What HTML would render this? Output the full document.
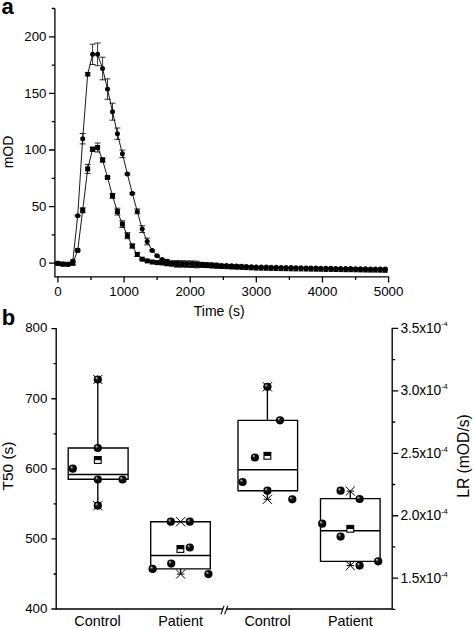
<!DOCTYPE html>
<html><head><meta charset="utf-8"><title>Figure</title>
<style>
html,body{margin:0;padding:0;background:#fff;}
body{width:473px;height:628px;overflow:hidden;position:relative;font-family:"Liberation Sans",sans-serif;color:#000;}
svg{position:absolute;left:0;top:0;}
.t{position:absolute;white-space:nowrap;line-height:1;}
.tk{font-size:13.3px;}
.r{text-align:right;}
.c{transform:translateX(-50%);}
.pl{font-weight:bold;font-size:22px;}
.ax{font-size:14px;}
.rot{transform:translate(-50%,-50%) rotate(-90deg);}
sup{font-size:7.6px;vertical-align:6.5px;line-height:0;letter-spacing:-0.2px;}
</style></head><body>
<svg width="473" height="628" viewBox="0 0 473 628">
<defs><radialGradient id="b" cx="0.5" cy="0.5" r="0.5" fx="0.3" fy="0.27">
<stop offset="0" stop-color="#e4e4e4"/><stop offset="0.15" stop-color="#888"/><stop offset="0.4" stop-color="#111"/><stop offset="1" stop-color="#000"/></radialGradient></defs>
<g stroke="#000" fill="none" stroke-width="1.3">
<path d="M54.9 8.5V276.8H389"/>
<path d="M49 263.2H54.9M49 206.6H54.9M49 150.0H54.9M49 93.4H54.9M49 36.8H54.9M51.8 234.9H54.9M51.8 178.3H54.9M51.8 121.7H54.9M51.8 65.1H54.9M51.8 8.5H54.9M57.9 276.8V282.4M124.1 276.8V282.4M190.2 276.8V282.4M256.3 276.8V282.4M322.5 276.8V282.4M388.6 276.8V282.4M91.0 276.8V279.9M157.1 276.8V279.9M223.3 276.8V279.9M289.4 276.8V279.9M355.6 276.8V279.9"/>
</g>
<g stroke="#000" stroke-width="0.9" fill="none"><path d="M57.9 263.2 L62.9 264.1 L67.8 264.2 L72.8 261.3 L77.7 215.8 L82.7 138.7 L87.7 74.2 L92.6 54.3 L97.6 54.3 L102.6 68.5 L107.5 89.1 L112.5 111.7 L117.4 133.7 L122.4 153.8 L127.4 174.0 L132.3 193.4 L137.3 211.4 L142.2 229.1 L147.2 241.5 L152.2 250.4 L157.1 255.8 L162.1 259.6 L167.0 261.3 L172.0 262.7 L177.0 263.3 L181.9 263.4 L186.9 263.5 L191.9 263.6 L196.8 263.9 L201.8 264.2 L206.7 264.5 L211.7 264.8 L216.7 265.1 L221.6 265.4 L226.6 265.6 L231.5 265.8 L236.5 266.1 L241.5 266.3 L246.4 266.5 L251.4 266.7 L256.3 266.9 L261.3 267.0 L266.3 267.1 L271.2 267.2 L276.2 267.3 L281.2 267.4 L286.1 267.5 L291.1 267.6 L296.0 267.7 L301.0 267.8 L306.0 267.9 L310.9 268.0 L315.9 268.1 L320.8 268.2 L325.8 268.2 L330.8 268.3 L335.7 268.4 L340.7 268.5 L345.7 268.5 L350.6 268.6 L355.6 268.7 L360.5 268.8 L365.5 268.8 L370.5 268.9 L375.4 269.0 L380.4 269.1 L385.3 269.1"/><path d="M57.9 262.3V264.1M54.9 262.3h6M54.9 264.1h6M62.9 263.2V265.0M59.9 263.2h6M59.9 265.0h6M67.8 263.3V265.1M64.8 263.3h6M64.8 265.1h6M72.8 260.1V262.4M69.8 260.1h6M69.8 262.4h6M77.7 215.4V216.1M74.7 215.4h6M74.7 216.1h6M82.7 133.5V143.9M79.7 133.5h6M79.7 143.9h6M87.7 72.5V75.9M84.7 72.5h6M84.7 75.9h6M92.6 44.2V64.5M89.6 44.2h6M89.6 64.5h6M97.6 43.0V65.7M94.6 43.0h6M94.6 65.7h6M102.6 57.2V79.8M99.6 57.2h6M99.6 79.8h6M107.5 78.9V99.3M104.5 78.9h6M104.5 99.3h6M112.5 103.2V120.2M109.5 103.2h6M109.5 120.2h6M117.4 128.0V139.4M114.4 128.0h6M114.4 139.4h6M122.4 150.1V157.6M119.4 150.1h6M119.4 157.6h6M127.4 173.1V174.9M124.4 173.1h6M124.4 174.9h6M132.3 192.4V194.3M129.3 192.4h6M129.3 194.3h6M137.3 208.9V213.8M134.3 208.9h6M134.3 213.8h6M142.2 225.7V232.5M139.2 225.7h6M139.2 232.5h6M147.2 238.1V244.9M144.2 238.1h6M144.2 244.9h6M152.2 249.8V251.0M149.2 249.8h6M149.2 251.0h6M157.1 255.4V256.3M154.1 255.4h6M154.1 256.3h6M162.1 259.0V260.1M159.1 259.0h6M159.1 260.1h6M167.0 259.6V263.0M164.0 259.6h6M164.0 263.0h6M172.0 261.0V264.4M169.0 261.0h6M169.0 264.4h6M177.0 260.6V266.0M174.0 260.6h6M174.0 266.0h6M181.9 260.7V266.1M178.9 260.7h6M178.9 266.1h6M186.9 260.8V266.2M183.9 260.8h6M183.9 266.2h6M191.9 260.9V266.4M188.9 260.9h6M188.9 266.4h6M196.8 261.2V266.6M193.8 261.2h6M193.8 266.6h6M201.8 262.4V266.0M198.8 262.4h6M198.8 266.0h6M206.7 262.7V266.3M203.7 262.7h6M203.7 266.3h6M211.7 263.0V266.6M208.7 263.0h6M208.7 266.6h6M216.7 263.3V266.9M213.7 263.3h6M213.7 266.9h6M221.6 264.2V266.5M218.6 264.2h6M218.6 266.5h6M226.6 264.5V266.7M223.6 264.5h6M223.6 266.7h6M231.5 264.7V267.0M228.5 264.7h6M228.5 267.0h6M236.5 264.9V267.2M233.5 264.9h6M233.5 267.2h6M241.5 265.1V267.4M238.5 265.1h6M238.5 267.4h6" stroke-width="0.8"/></g><g fill="#000"><circle cx="57.9" cy="263.2" r="2.5"/><circle cx="62.9" cy="264.1" r="2.5"/><circle cx="67.8" cy="264.2" r="2.5"/><circle cx="72.8" cy="261.3" r="2.5"/><circle cx="77.7" cy="215.8" r="2.5"/><circle cx="82.7" cy="138.7" r="2.5"/><circle cx="87.7" cy="74.2" r="2.5"/><circle cx="92.6" cy="54.3" r="2.5"/><circle cx="97.6" cy="54.3" r="2.5"/><circle cx="102.6" cy="68.5" r="2.5"/><circle cx="107.5" cy="89.1" r="2.5"/><circle cx="112.5" cy="111.7" r="2.5"/><circle cx="117.4" cy="133.7" r="2.5"/><circle cx="122.4" cy="153.8" r="2.5"/><circle cx="127.4" cy="174.0" r="2.5"/><circle cx="132.3" cy="193.4" r="2.5"/><circle cx="137.3" cy="211.4" r="2.5"/><circle cx="142.2" cy="229.1" r="2.5"/><circle cx="147.2" cy="241.5" r="2.5"/><circle cx="152.2" cy="250.4" r="2.5"/><circle cx="157.1" cy="255.8" r="2.5"/><circle cx="162.1" cy="259.6" r="2.5"/><circle cx="167.0" cy="261.3" r="2.5"/><circle cx="172.0" cy="262.7" r="2.5"/><circle cx="177.0" cy="263.3" r="2.5"/><circle cx="181.9" cy="263.4" r="2.5"/><circle cx="186.9" cy="263.5" r="2.5"/><circle cx="191.9" cy="263.6" r="2.5"/><circle cx="196.8" cy="263.9" r="2.5"/><circle cx="201.8" cy="264.2" r="2.5"/><circle cx="206.7" cy="264.5" r="2.5"/><circle cx="211.7" cy="264.8" r="2.5"/><circle cx="216.7" cy="265.1" r="2.5"/><circle cx="221.6" cy="265.4" r="2.5"/><circle cx="226.6" cy="265.6" r="2.5"/><circle cx="231.5" cy="265.8" r="2.5"/><circle cx="236.5" cy="266.1" r="2.5"/><circle cx="241.5" cy="266.3" r="2.5"/><circle cx="246.4" cy="266.5" r="2.5"/><circle cx="251.4" cy="266.7" r="2.5"/><circle cx="256.3" cy="266.9" r="2.5"/><circle cx="261.3" cy="267.0" r="2.5"/><circle cx="266.3" cy="267.1" r="2.5"/><circle cx="271.2" cy="267.2" r="2.5"/><circle cx="276.2" cy="267.3" r="2.5"/><circle cx="281.2" cy="267.4" r="2.5"/><circle cx="286.1" cy="267.5" r="2.5"/><circle cx="291.1" cy="267.6" r="2.5"/><circle cx="296.0" cy="267.7" r="2.5"/><circle cx="301.0" cy="267.8" r="2.5"/><circle cx="306.0" cy="267.9" r="2.5"/><circle cx="310.9" cy="268.0" r="2.5"/><circle cx="315.9" cy="268.1" r="2.5"/><circle cx="320.8" cy="268.2" r="2.5"/><circle cx="325.8" cy="268.2" r="2.5"/><circle cx="330.8" cy="268.3" r="2.5"/><circle cx="335.7" cy="268.4" r="2.5"/><circle cx="340.7" cy="268.5" r="2.5"/><circle cx="345.7" cy="268.5" r="2.5"/><circle cx="350.6" cy="268.6" r="2.5"/><circle cx="355.6" cy="268.7" r="2.5"/><circle cx="360.5" cy="268.8" r="2.5"/><circle cx="365.5" cy="268.8" r="2.5"/><circle cx="370.5" cy="268.9" r="2.5"/><circle cx="375.4" cy="269.0" r="2.5"/><circle cx="380.4" cy="269.1" r="2.5"/><circle cx="385.3" cy="269.1" r="2.5"/></g>
<g stroke="#000" stroke-width="0.9" fill="none"><path d="M57.9 263.4 L62.9 264.2 L67.8 264.3 L72.8 263.4 L77.7 250.4 L82.7 210.3 L87.7 168.9 L92.6 149.2 L97.6 147.5 L102.6 160.0 L107.5 177.4 L112.5 195.8 L117.4 211.6 L122.4 224.1 L127.4 235.7 L132.3 246.0 L137.3 254.5 L142.2 259.2 L147.2 260.9 L152.2 262.0 L157.1 262.6 L162.1 262.9 L167.0 263.5 L172.0 263.9 L177.0 264.4 L181.9 264.5 L186.9 264.6 L191.9 264.8 L196.8 265.1 L201.8 265.3 L206.7 265.6 L211.7 265.9 L216.7 266.2 L221.6 266.5 L226.6 266.7 L231.5 267.0 L236.5 267.2 L241.5 267.4 L246.4 267.6 L251.4 267.8 L256.3 268.1 L261.3 268.2 L266.3 268.3 L271.2 268.4 L276.2 268.5 L281.2 268.6 L286.1 268.7 L291.1 268.8 L296.0 268.9 L301.0 268.9 L306.0 269.0 L310.9 269.1 L315.9 269.2 L320.8 269.3 L325.8 269.4 L330.8 269.4 L335.7 269.5 L340.7 269.6 L345.7 269.7 L350.6 269.7 L355.6 269.8 L360.5 269.9 L365.5 270.0 L370.5 270.1 L375.4 270.1 L380.4 270.2 L385.3 270.3"/><path d="M57.9 262.5V264.3M54.9 262.5h6M54.9 264.3h6M62.9 263.3V265.1M59.9 263.3h6M59.9 265.1h6M67.8 263.4V265.2M64.8 263.4h6M64.8 265.2h6M72.8 262.3V264.6M69.8 262.3h6M69.8 264.6h6M77.7 250.1V250.7M74.7 250.1h6M74.7 250.7h6M82.7 207.8V212.8M79.7 207.8h6M79.7 212.8h6M87.7 164.4V173.4M84.7 164.4h6M84.7 173.4h6M92.6 147.2V151.2M89.6 147.2h6M89.6 151.2h6M97.6 143.0V152.0M94.6 143.0h6M94.6 152.0h6M102.6 157.9V162.0M99.6 157.9h6M99.6 162.0h6M107.5 176.3V178.5M104.5 176.3h6M104.5 178.5h6M112.5 193.4V198.3M109.5 193.4h6M109.5 198.3h6M117.4 208.2V215.0M114.4 208.2h6M114.4 215.0h6M122.4 220.8V227.5M119.4 220.8h6M119.4 227.5h6M127.4 232.6V238.7M124.4 232.6h6M124.4 238.7h6M132.3 244.0V248.0M129.3 244.0h6M129.3 248.0h6M137.3 252.4V256.5M134.3 252.4h6M134.3 256.5h6M142.2 258.7V259.8M139.2 258.7h6M139.2 259.8h6M147.2 260.4V261.5M144.2 260.4h6M144.2 261.5h6M152.2 261.4V262.5M149.2 261.4h6M149.2 262.5h6M157.1 261.7V263.5M154.1 261.7h6M154.1 263.5h6M162.1 261.2V264.6M159.1 261.2h6M159.1 264.6h6M167.0 261.3V265.8M164.0 261.3h6M164.0 265.8h6M172.0 261.6V266.1M169.0 261.6h6M169.0 266.1h6M177.0 261.7V267.2M174.0 261.7h6M174.0 267.2h6M181.9 261.8V267.2M178.9 261.8h6M178.9 267.2h6M186.9 261.9V267.3M183.9 261.9h6M183.9 267.3h6M191.9 262.1V267.5M188.9 262.1h6M188.9 267.5h6M196.8 262.3V267.8M193.8 262.3h6M193.8 267.8h6M201.8 263.5V267.2M198.8 263.5h6M198.8 267.2h6M206.7 263.8V267.4M203.7 263.8h6M203.7 267.4h6M211.7 264.1V267.7M208.7 264.1h6M208.7 267.7h6M216.7 264.4V268.0M213.7 264.4h6M213.7 268.0h6M221.6 265.4V267.6M218.6 265.4h6M218.6 267.6h6M226.6 265.6V267.9M223.6 265.6h6M223.6 267.9h6M231.5 265.8V268.1M228.5 265.8h6M228.5 268.1h6M236.5 266.1V268.3M233.5 266.1h6M233.5 268.3h6M241.5 266.3V268.5M238.5 266.3h6M238.5 268.5h6" stroke-width="0.8"/></g><g fill="#000"><rect x="55.4" y="260.9" width="5.0" height="5"/><rect x="60.4" y="261.7" width="5.0" height="5"/><rect x="65.3" y="261.8" width="5.0" height="5"/><rect x="70.3" y="260.9" width="5.0" height="5"/><rect x="75.2" y="247.9" width="5.0" height="5"/><rect x="80.2" y="207.8" width="5.0" height="5"/><rect x="85.2" y="166.4" width="5.0" height="5"/><rect x="90.1" y="146.7" width="5.0" height="5"/><rect x="95.1" y="145.0" width="5.0" height="5"/><rect x="100.1" y="157.5" width="5.0" height="5"/><rect x="105.0" y="174.9" width="5.0" height="5"/><rect x="110.0" y="193.3" width="5.0" height="5"/><rect x="114.9" y="209.1" width="5.0" height="5"/><rect x="119.9" y="221.6" width="5.0" height="5"/><rect x="124.9" y="233.2" width="5.0" height="5"/><rect x="129.8" y="243.5" width="5.0" height="5"/><rect x="134.8" y="252.0" width="5.0" height="5"/><rect x="139.7" y="256.7" width="5.0" height="5"/><rect x="144.7" y="258.4" width="5.0" height="5"/><rect x="149.7" y="259.5" width="5.0" height="5"/><rect x="154.6" y="260.1" width="5.0" height="5"/><rect x="159.6" y="260.4" width="5.0" height="5"/><rect x="164.5" y="261.0" width="5.0" height="5"/><rect x="169.5" y="261.4" width="5.0" height="5"/><rect x="174.7" y="261.9" width="4.6" height="5"/><rect x="179.6" y="262.0" width="4.6" height="5"/><rect x="184.6" y="262.1" width="4.6" height="5"/><rect x="189.6" y="262.3" width="4.6" height="5"/><rect x="194.5" y="262.6" width="4.6" height="5"/><rect x="199.5" y="262.8" width="4.6" height="5"/><rect x="204.4" y="263.1" width="4.6" height="5"/><rect x="209.4" y="263.4" width="4.6" height="5"/><rect x="214.4" y="263.7" width="4.6" height="5"/><rect x="219.3" y="264.0" width="4.6" height="5"/><rect x="224.3" y="264.2" width="4.6" height="5"/><rect x="229.2" y="264.5" width="4.6" height="5"/><rect x="234.2" y="264.7" width="4.6" height="5"/><rect x="239.2" y="264.9" width="4.6" height="5"/><rect x="244.1" y="265.1" width="4.6" height="5"/><rect x="249.1" y="265.3" width="4.6" height="5"/><rect x="254.0" y="265.6" width="4.6" height="5"/><rect x="259.0" y="265.7" width="4.6" height="5"/><rect x="264.0" y="265.8" width="4.6" height="5"/><rect x="268.9" y="265.9" width="4.6" height="5"/><rect x="273.9" y="266.0" width="4.6" height="5"/><rect x="278.9" y="266.1" width="4.6" height="5"/><rect x="283.8" y="266.2" width="4.6" height="5"/><rect x="288.8" y="266.3" width="4.6" height="5"/><rect x="293.7" y="266.4" width="4.6" height="5"/><rect x="298.7" y="266.4" width="4.6" height="5"/><rect x="303.7" y="266.5" width="4.6" height="5"/><rect x="308.6" y="266.6" width="4.6" height="5"/><rect x="313.6" y="266.7" width="4.6" height="5"/><rect x="318.5" y="266.8" width="4.6" height="5"/><rect x="323.5" y="266.9" width="4.6" height="5"/><rect x="328.5" y="266.9" width="4.6" height="5"/><rect x="333.4" y="267.0" width="4.6" height="5"/><rect x="338.4" y="267.1" width="4.6" height="5"/><rect x="343.4" y="267.2" width="4.6" height="5"/><rect x="348.3" y="267.2" width="4.6" height="5"/><rect x="353.3" y="267.3" width="4.6" height="5"/><rect x="358.2" y="267.4" width="4.6" height="5"/><rect x="363.2" y="267.5" width="4.6" height="5"/><rect x="368.2" y="267.6" width="4.6" height="5"/><rect x="373.1" y="267.6" width="4.6" height="5"/><rect x="378.1" y="267.7" width="4.6" height="5"/><rect x="383.0" y="267.8" width="4.6" height="5"/></g>
<g stroke="#000" fill="none" stroke-width="1.35">
<path d="M51.4 328.6H56.2V609H222.9M226.5 609H392.2V328.4H398.2"/>
<path d="M220.9 614.4L224.1 605.8M224.6 614.4L227.8 605.8" stroke-width="1.1"/>
<path d="M51.4 609.0H56.2M51.4 538.9H56.2M51.4 468.8H56.2M51.4 398.7H56.2M53.6 574.0H56.2M53.6 503.9H56.2M53.6 433.8H56.2M53.6 363.6H56.2M392.2 390.8H398.2M392.2 453.3H398.2M392.2 515.7H398.2M392.2 578.1H398.2M392.2 359.6H395.2M392.2 422.0H395.2M392.2 484.5H395.2M392.2 546.9H395.2M392.2 609.3H395.2"/>
<path d="M68.2 448H128.1V479.2H68.2ZM68.2 474.5H128.1M97.8 379.5V448M97.8 479.2V505.7"/>
<path d="M150.7 521.7H210.3V568.9H150.7ZM150.7 555.5H210.3M180.6 521.7V521.7M180.6 568.9V574.1"/>
<path d="M238 420.3H297.6V490.7H238ZM238 469.7H297.6M267.4 386.8V420.3M267.4 490.7V499.3"/>
<path d="M320.5 498.6H380.1V561.3H320.5ZM320.5 530.7H380.1M350.3 491.1V498.6M350.3 561.3V565.6"/>
</g>
<g stroke="#000" stroke-width="1" fill="none">
<path d="M93.2 374.9L102.39999999999999 384.1M93.2 384.1L102.39999999999999 374.9M94.0 379.5H101.6"/>
<path d="M93.2 501.09999999999997L102.39999999999999 510.3M93.2 510.3L102.39999999999999 501.09999999999997M94.0 505.7H101.6"/>
<path d="M176.0 517.1L185.2 526.3000000000001M176.0 526.3000000000001L185.2 517.1M176.79999999999998 521.7H184.4"/>
<path d="M176.0 569.5L185.2 578.7M176.0 578.7L185.2 569.5M176.79999999999998 574.1H184.4"/>
<path d="M262.79999999999995 382.2L272.0 391.40000000000003M262.79999999999995 391.40000000000003L272.0 382.2M263.59999999999997 386.8H271.2"/>
<path d="M262.79999999999995 494.7L272.0 503.90000000000003M262.79999999999995 503.90000000000003L272.0 494.7M263.59999999999997 499.3H271.2"/>
<path d="M345.7 486.5L354.90000000000003 495.70000000000005M345.7 495.70000000000005L354.90000000000003 486.5M346.5 491.1H354.1"/>
<path d="M345.7 561.0L354.90000000000003 570.2M345.7 570.2L354.90000000000003 561.0M346.5 565.6H354.1"/>
</g>
<rect x="94.39999999999999" y="456.6" width="6.8" height="6.8" fill="#fff" stroke="#000" stroke-width="1.1"/><rect x="94.39999999999999" y="456.6" width="6.8" height="3.6" fill="#000"/>
<rect x="177.0" y="545.6" width="6.8" height="6.8" fill="#fff" stroke="#000" stroke-width="1.1"/><rect x="177.0" y="545.6" width="6.8" height="3.6" fill="#000"/>
<rect x="264.0" y="452.40000000000003" width="6.8" height="6.8" fill="#fff" stroke="#000" stroke-width="1.1"/><rect x="264.0" y="452.40000000000003" width="6.8" height="3.6" fill="#000"/>
<rect x="346.90000000000003" y="525.4" width="6.8" height="6.8" fill="#fff" stroke="#000" stroke-width="1.1"/><rect x="346.90000000000003" y="525.4" width="6.8" height="3.6" fill="#000"/>
<circle cx="97.8" cy="379.5" r="4.1" fill="url(#b)"/>
<circle cx="97.8" cy="448" r="4.1" fill="url(#b)"/>
<circle cx="72.8" cy="468.7" r="4.1" fill="url(#b)"/>
<circle cx="97.8" cy="479.5" r="4.1" fill="url(#b)"/>
<circle cx="122.5" cy="479.5" r="4.1" fill="url(#b)"/>
<circle cx="97.8" cy="505.7" r="4.1" fill="url(#b)"/>
<circle cx="170.8" cy="521.7" r="4.1" fill="url(#b)"/>
<circle cx="189.8" cy="521.7" r="4.1" fill="url(#b)"/>
<circle cx="189.8" cy="547.5" r="4.1" fill="url(#b)"/>
<circle cx="171.2" cy="563.6" r="4.1" fill="url(#b)"/>
<circle cx="152.6" cy="568.9" r="4.1" fill="url(#b)"/>
<circle cx="208.4" cy="574.1" r="4.1" fill="url(#b)"/>
<circle cx="267.4" cy="386.8" r="4.1" fill="url(#b)"/>
<circle cx="280" cy="420.3" r="4.1" fill="url(#b)"/>
<circle cx="254.9" cy="457.5" r="4.1" fill="url(#b)"/>
<circle cx="242.6" cy="482" r="4.1" fill="url(#b)"/>
<circle cx="267.4" cy="490.7" r="4.1" fill="url(#b)"/>
<circle cx="292.3" cy="499.3" r="4.1" fill="url(#b)"/>
<circle cx="340.6" cy="490.7" r="4.1" fill="url(#b)"/>
<circle cx="359.6" cy="499" r="4.1" fill="url(#b)"/>
<circle cx="322.2" cy="523.7" r="4.1" fill="url(#b)"/>
<circle cx="340.6" cy="536.6" r="4.1" fill="url(#b)"/>
<circle cx="378.2" cy="561.3" r="4.1" fill="url(#b)"/>
<circle cx="359.6" cy="565.6" r="4.1" fill="url(#b)"/>
</svg>
<div class="t pl" style="left:1.5px;top:-4.5px;">a</div>
<div class="t pl" style="left:1.7px;top:307.2px;">b</div>
<div class="t tk r" style="right:426.5px;top:256.4px;">0</div>
<div class="t tk r" style="right:426.5px;top:199.8px;">50</div>
<div class="t tk r" style="right:426.5px;top:143.2px;">100</div>
<div class="t tk r" style="right:426.5px;top:86.6px;">150</div>
<div class="t tk r" style="right:426.5px;top:30.0px;">200</div>
<div class="t tk c" style="left:57.9px;top:285.3px;">0</div>
<div class="t tk c" style="left:124.1px;top:285.3px;">1000</div>
<div class="t tk c" style="left:190.2px;top:285.3px;">2000</div>
<div class="t tk c" style="left:256.3px;top:285.3px;">3000</div>
<div class="t tk c" style="left:322.5px;top:285.3px;">4000</div>
<div class="t tk c" style="left:388.6px;top:285.3px;">5000</div>
<div class="t ax c" style="left:219.2px;top:303.8px;">Time (s)</div>
<div class="t ax rot" style="left:8px;top:151.7px;">mOD</div>
<div class="t tk r" style="right:425.6px;top:601.8px;">400</div>
<div class="t tk r" style="right:425.6px;top:531.7px;">500</div>
<div class="t tk r" style="right:425.6px;top:461.6px;">600</div>
<div class="t tk r" style="right:425.6px;top:391.5px;">700</div>
<div class="t tk r" style="right:425.6px;top:321.4px;">800</div>
<div class="t tk" style="left:400.6px;top:321.9px;font-size:13.8px;letter-spacing:-0.15px;">3.5x10<sup style="display:inline-block;transform:scaleY(0.6) translateY(2px);">-4</sup></div>
<div class="t tk" style="left:400.6px;top:384.3px;font-size:13.8px;letter-spacing:-0.15px;">3.0x10<sup>-4</sup></div>
<div class="t tk" style="left:400.6px;top:446.8px;font-size:13.8px;letter-spacing:-0.15px;">2.5x10<sup>-4</sup></div>
<div class="t tk" style="left:400.6px;top:509.2px;font-size:13.8px;letter-spacing:-0.15px;">2.0x10<sup>-4</sup></div>
<div class="t tk" style="left:400.6px;top:571.6px;font-size:13.8px;letter-spacing:-0.15px;">1.5x10<sup>-4</sup></div>
<div class="t ax rot" style="left:8px;top:466.2px;font-size:15.4px;">T50 (s)</div>
<div class="t ax rot" style="left:464.3px;top:456.2px;font-size:15.7px;">LR (mOD/s)</div>
<div class="t ax c" style="left:97.5px;top:614.4px;font-size:14.4px;">Control</div>
<div class="t ax c" style="left:180.6px;top:614.4px;font-size:14.4px;">Patient</div>
<div class="t ax c" style="left:267.6px;top:614.4px;font-size:14.4px;">Control</div>
<div class="t ax c" style="left:350.3px;top:614.4px;font-size:14.4px;">Patient</div>
</body></html>
